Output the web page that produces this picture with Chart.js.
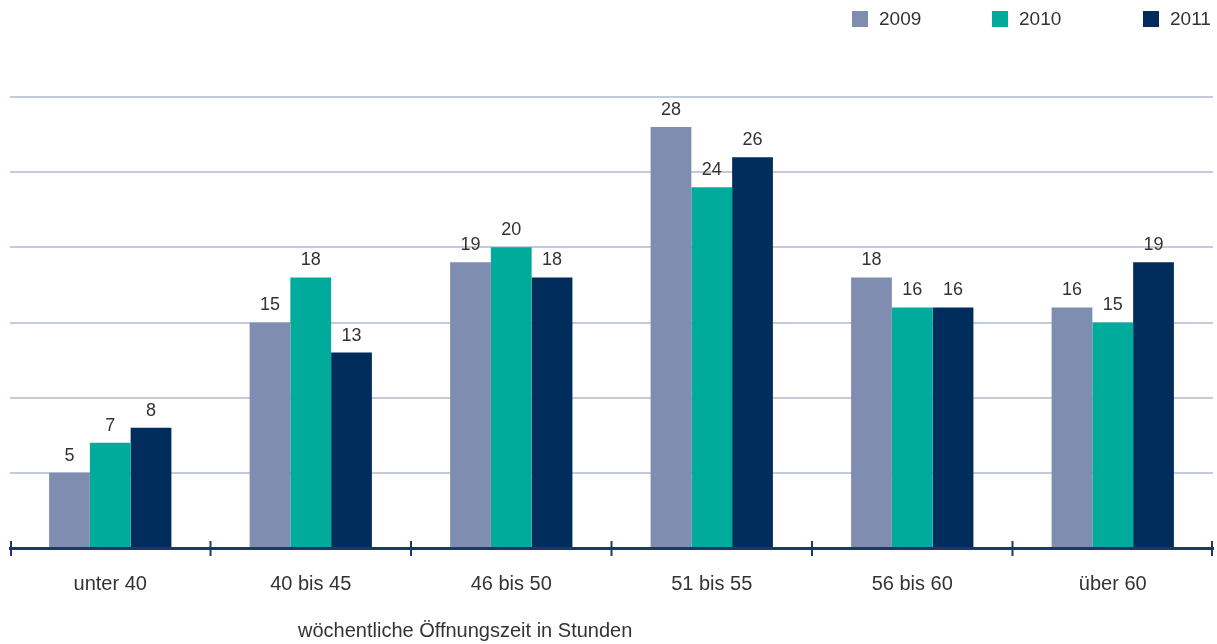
<!DOCTYPE html>
<html>
<head>
<meta charset="utf-8">
<script src="https://cdn.jsdelivr.net/npm/chart.js@4/dist/chart.umd.min.js"></script>
<style>
  body { margin: 0; background: #fff; font-family: "Liberation Sans", Arial, sans-serif; color: #333; }
  #wrap { position: relative; width: 1217px; height: 644px; }
  #legend { position: absolute; top: 8px; left: 0; width: 1217px; height: 24px; }
  .item { position: absolute; top: 0; font-size: 19px; line-height: 22px; }
  .item span.box { position: absolute; top: 3px; width: 16px; height: 16px; }
  .item span.txt { position: absolute; white-space: nowrap; }
  #xtitle { position: absolute; left: 298px; top: 618px; font-size: 20px; line-height: 24px; white-space: nowrap; }
</style>
</head>
<body>
<div id="wrap">
  <canvas id="myChart" width="1217" height="644"></canvas>
  <div id="legend"></div>
  <div id="xtitle">wöchentliche Öffnungszeit in Stunden</div>
</div>
<script>
// Daten
const kategorien = ["unter 40", "40 bis 45", "46 bis 50", "51 bis 55", "56 bis 60", "über 60"];
const jahre = ["2009", "2010", "2011"];
const werte2009 = [5, 15, 19, 28, 18, 16];
const werte2010 = [7, 18, 20, 24, 16, 15];
const werte2011 = [8, 13, 18, 26, 16, 19];
const farben = ["#7f8eb0", "#00ab9c", "#002d5c"];

// Legende als HTML (feste Positionen wie im Original)
const legendPos = [852, 992, 1143];
let html = "";
jahre.forEach((j, i) => {
  html += `<div class="item" style="left:${legendPos[i]}px">
             <span class="box" style="left:0;background:${farben[i]}"></span>
             <span class="txt" style="left:27px">${j}</span>
           </div>`;
});
document.getElementById("legend").innerHTML = html;

// Werte über den Balken
const wertePlugin = {
  id: "werte",
  afterDatasetsDraw(chart) {
    const ctx = chart.ctx;
    ctx.save();
    ctx.font = '18px "Liberation Sans", Arial, sans-serif';
    ctx.fillStyle = "#333";
    ctx.textAlign = "center";
    ctx.textBaseline = "middle";
    chart.data.datasets.forEach((ds, i) => {
      chart.getDatasetMeta(i).data.forEach((bar, j) => {
        ctx.fillText(ds.data[j], bar.x, bar.y - 17);
      });
    });
    ctx.restore();
  }
};

// Teilstriche der x-Achse an den Kategoriegrenzen
const strichPlugin = {
  id: "striche",
  afterDraw(chart) {
    const x = chart.scales.x;
    const ctx = chart.ctx;
    const n = kategorien.length;
    ctx.save();
    ctx.strokeStyle = "#1d3868";
    ctx.lineWidth = 2;
    for (let i = 0; i <= n; i++) {
      let px;
      if (i == 0) px = x.left + 1;
      else if (i == n) px = x.right - 1;
      else px = (x.getPixelForTick(i - 1) + x.getPixelForTick(i)) / 2;
      ctx.beginPath();
      ctx.moveTo(px, x.top - 7);
      ctx.lineTo(px, x.top + 8);
      ctx.stroke();
    }
    ctx.restore();
  }
};

const config = {
  type: "bar",
  data: {
    labels: kategorien,
    datasets: [
      { label: jahre[0], data: werte2009, backgroundColor: farben[0] },
      { label: jahre[1], data: werte2010, backgroundColor: farben[1] },
      { label: jahre[2], data: werte2011, backgroundColor: farben[2] }
    ]
  },
  options: {
    responsive: false,
    animation: false,
    datasets: { bar: { categoryPercentage: 0.61, barPercentage: 1 } },
    layout: { padding: { top: 97, left: 10, right: 4, bottom: 24 } },
    plugins: { legend: { display: false }, tooltip: { enabled: false } },
    scales: {
      x: {
        grid: { display: false, drawTicks: false },
        border: { display: true, color: "#1d3868", width: 3 },
        ticks: {
          padding: 24,
          color: "#333",
          font: { family: '"Liberation Sans", Arial, sans-serif', size: 20 }
        }
      },
      y: {
        min: 0,
        max: 30,
        ticks: { display: false, stepSize: 5 },
        border: { display: false },
        grid: { color: "#c3cadb", lineWidth: 2, drawTicks: false }
      }
    }
  },
  plugins: [wertePlugin, strichPlugin]
};

new Chart(document.getElementById("myChart").getContext("2d"), config);
</script>
</body>
</html>
